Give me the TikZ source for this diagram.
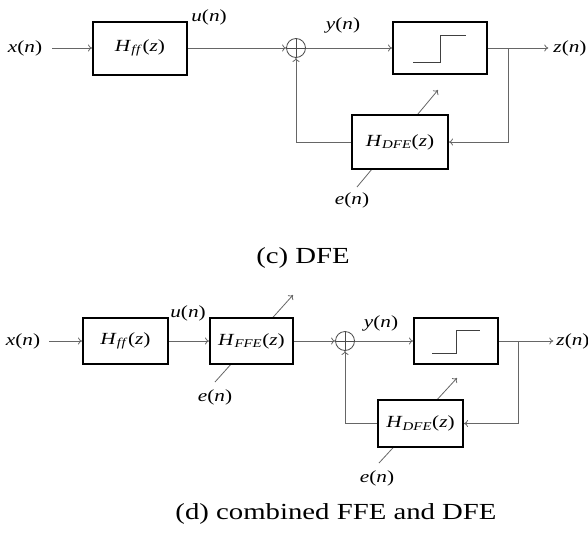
\documentclass[tikz,border=0pt]{standalone}
\usepackage{fontspec}
\setmainfont{Liberation Serif}
\usetikzlibrary{arrows.meta}
\newcommand\stretchx[1]{\scalebox{1.25}[1]{#1}}
\newcommand\sig[2]{\stretchx{\textit{#1}(\textit{#2})}}
\newcommand\tf[1]{\stretchx{\textit{H}\textsubscript{\textit{#1}}(\textit{z})}}
\tikzset{
 blk/.style={draw=black, line width=2pt, fill=white, inner sep=0pt, font=\fontsize{17}{20}\selectfont},
 wire/.style={draw=black!60, line width=0.8pt},
 arr/.style={wire, -{To[length=4pt,width=7pt]}},
 lbl/.style={inner sep=1pt, font=\fontsize{17}{20}\selectfont},
 captext/.style={inner sep=0pt, font=\fontsize{23}{27}\selectfont},
 sumnode/.style={circle, draw=black!70, line width=0.8pt, minimum size=19pt, inner sep=0pt, fill=white,
   path picture={\draw[black!70, line width=0.8pt] (path picture bounding box.north) -- (path picture bounding box.south)
   (path picture bounding box.west) -- (path picture bounding box.east);}},
 stepline/.style={draw=black!75, line width=1pt}
}
\begin{document}
\begin{tikzpicture}[x=1pt,y=1pt]
\useasboundingbox (0,0) rectangle (588,-541);
% ---------- (c) DFE ----------
\coordinate (ec0) at (357,-187);
\coordinate (ec1) at (438,-90);
\draw[arr] (ec0) -- (ec1);
\node[blk, minimum width=94pt, minimum height=53pt] (hffc) at (140,-48) {\tf{f\kern0.6pt f}};
\node[sumnode] (sumc) at (296,-48) {};
\node[blk, minimum width=94pt, minimum height=52pt] (decc) at (440,-48) {};
\draw[stepline, shift={(decc.center)}] (-27,-14) -- (0,-14) -- (0,13) -- (26,13);
\node[blk, minimum width=96pt, minimum height=54pt] (dfec) at (400,-142) {\tf{DFE}};
\node[lbl] (xc) at (25,-48) {\sig{x}{n}};
\node[lbl] (uc) at (209,-17) {\sig{u}{n}};
\node[lbl] (yc) at (343,-25) {\sig{y}{n}};
\node[lbl] (zc) at (570,-48) {\sig{z}{n}};
\node[lbl] (ec) at (352,-200) {\sig{e}{n}};
\coordinate (brc) at (508,-48);
\draw[arr] ([xshift=9pt]xc.east) -- (hffc.west);
\draw[arr] (hffc.east) -- (sumc.west);
\draw[arr] (sumc.east) -- (decc.west);
\draw[arr] (decc.east) -- ([xshift=-4pt]zc.west);
\draw[arr] (brc) |- (dfec.east);
\draw[arr] (dfec.west) -| (sumc.south);
\node[captext] (capc) at (303,-258) {\stretchx{(c) DFE}};
% ---------- (d) combined FFE and DFE ----------
\coordinate (f0) at (215,-382);
\coordinate (f1) at (293,-295);
\coordinate (g0) at (379,-463);
\coordinate (g1) at (457,-378);
\draw[arr] (f0) -- (f1);
\draw[arr] (g0) -- (g1);
\node[blk, minimum width=85pt, minimum height=46pt] (hffd) at (125.5,-341) {\tf{f\kern0.6pt f}};
\node[blk, minimum width=83pt, minimum height=46pt] (ffed) at (251.5,-341) {\tf{FFE}};
\node[sumnode] (sumd) at (345,-341) {};
\node[blk, minimum width=84pt, minimum height=46pt] (decd) at (456,-341) {};
\draw[stepline, shift={(decd.center)}] (-24,-12) -- (0,-12) -- (0,11) -- (24,11);
\node[blk, minimum width=85pt, minimum height=47pt] (dfed) at (420.5,-423.5) {\tf{DFE}};
\node[lbl] (xd) at (23,-341) {\sig{x}{n}};
\node[lbl] (ud) at (188,-313) {\sig{u}{n}};
\node[lbl] (yd) at (381,-323) {\sig{y}{n}};
\node[lbl] (zd) at (573,-341) {\sig{z}{n}};
\node[lbl] (e1d) at (215,-397) {\sig{e}{n}};
\node[lbl] (e2d) at (377,-478) {\sig{e}{n}};
\coordinate (brd) at (518,-341);
\draw[arr] ([xshift=8pt]xd.east) -- (hffd.west);
\draw[arr] (hffd.east) -- (ffed.west);
\draw[arr] (ffed.east) -- (sumd.west);
\draw[arr] (sumd.east) -- (decd.west);
\draw[arr] (decd.east) -- ([xshift=-2pt]zd.west);
\draw[arr] (brd) |- (dfed.east);
\draw[arr] (dfed.west) -| (sumd.south);
\node[captext] (capd) at (336,-514) {\stretchx{(d) combined FFE and DFE}};
\end{tikzpicture}
\end{document}
